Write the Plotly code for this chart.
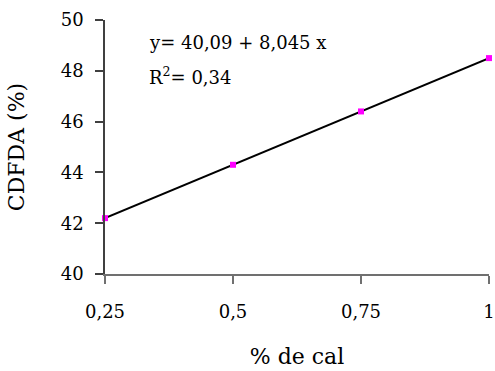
import plotly.graph_objects as go

# Lime dose (%) and CDFDA (%) observations
cal = [0.25, 0.5, 0.75, 1.0]
cdfda = [42.2, 44.3, 46.4, 48.5]

x_ticks = [0.25, 0.5, 0.75, 1.0]
x_tick_labels = ["0,25", "0,5", "0,75", "1"]
y_ticks = [40, 42, 44, 46, 48, 50]

equation = "y= 40,09 + 8,045 x"
r2_text = "R<sup>2</sup>= 0,34"

FONT = "DejaVu Serif"

fig = go.Figure()
fig.add_trace(go.Scatter(
    x=cal, y=cdfda,
    mode="lines+markers",
    line=dict(color="black", width=2),
    marker=dict(symbol="square", size=6, color="#FF00FF"),
    showlegend=False,
    cliponaxis=False,
))

fig.update_layout(
    width=495, height=371,
    margin=dict(l=105, r=6, t=20, b=97),
    paper_bgcolor="white", plot_bgcolor="white",
    font=dict(family=FONT, size=18, color="black"),
    xaxis=dict(
        range=[0.25, 1.0],
        tickvals=x_ticks, ticktext=x_tick_labels,
        showline=True, linecolor="#707070", linewidth=1.5,
        ticks="outside", ticklen=8, tickcolor="#707070", tickwidth=1.5,
        showgrid=False, zeroline=False,
        ticklabelstandoff=13,
        ticklabeloverflow="allow",
        title=dict(text="% de cal", standoff=27),
        automargin=False,
    ),
    yaxis=dict(
        range=[40, 50],
        tickvals=y_ticks,
        showline=True, linecolor="#404040", linewidth=1.5,
        ticks="outside", ticklen=8, tickcolor="#404040", tickwidth=1.5,
        showgrid=False, zeroline=False,
        ticklabelstandoff=8,
        ticklabeloverflow="allow",
        title=dict(text="CDFDA (%)", standoff=30),
        automargin=False,
    ),
    annotations=[
        dict(text=equation, x=0.109, y=0.913, xref="paper", yref="paper",
             xanchor="left", yanchor="middle", showarrow=False,
             font=dict(family=FONT, size=18)),
        dict(text=r2_text, x=0.109, y=0.78, xref="paper", yref="paper",
             xanchor="left", yanchor="middle", showarrow=False,
             font=dict(family=FONT, size=18)),
    ],
)

fig.write_html("out.html")
